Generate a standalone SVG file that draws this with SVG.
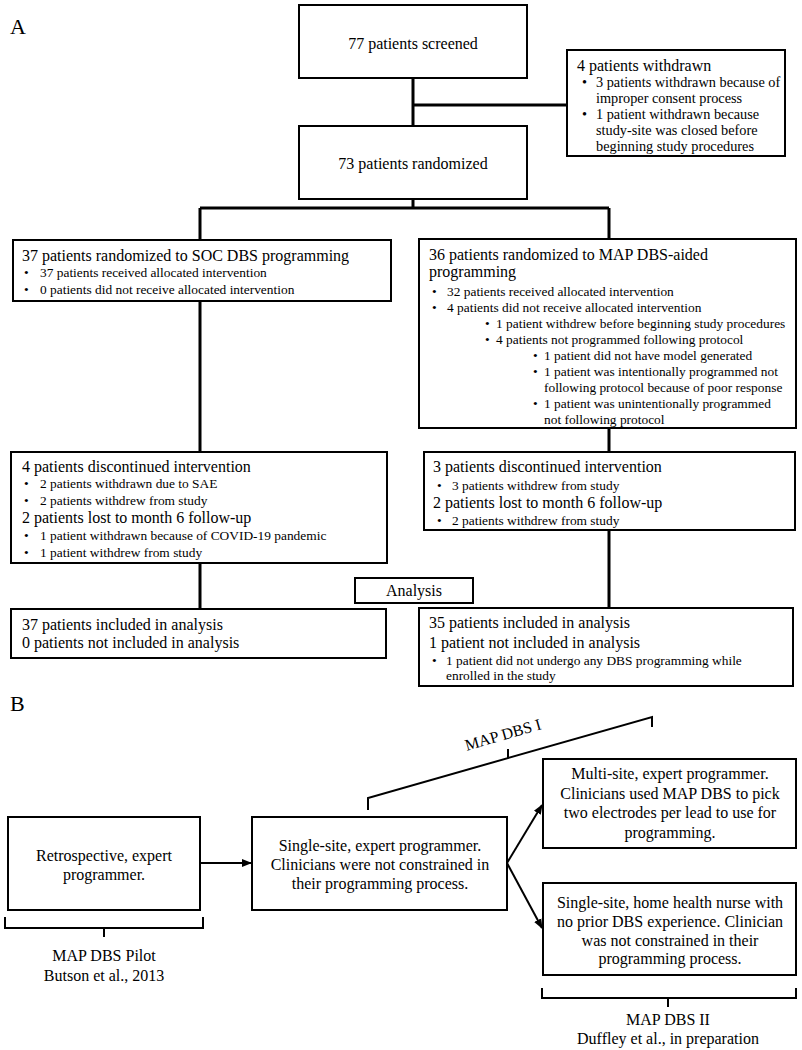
<svg xmlns="http://www.w3.org/2000/svg" width="802" height="1050" viewBox="0 0 802 1050">
<style>
text{font-family:"Liberation Serif","Times New Roman",serif;fill:#000}
.t{font-size:16px}
.s{font-size:13.4px}
.w{font-size:14.3px}
.c{text-anchor:middle}
.lbl{font-size:22px}
.box{fill:#fff;stroke:#000;stroke-width:2}
.con{fill:none;stroke:#000;stroke-width:3}
.conb{fill:none;stroke:#000;stroke-width:2}
</style>
<defs>
<marker id="ah" markerWidth="10" markerHeight="10" refX="9" refY="5" orient="auto" markerUnits="userSpaceOnUse">
<path d="M0,1 L10,5 L0,9 Z" fill="#000"/>
</marker>
</defs>
<rect width="802" height="1050" fill="#fff"/>
<text class="lbl" x="10" y="34">A</text>
<text class="lbl" x="10" y="711">B</text>
<g id="connectors">
<path class="con" d="M413,78 V126 M413,105 H567 M413,199 V208 M200,208 H609 M200,208 V240 M609,208 V239 M200,301 V452 M609,428 V452 M200,563 V609 M609,530 V608"/>
<path class="conb" d="M200,863 H251" marker-end="url(#ah)"/>
<path class="conb" d="M507,863 L542,805" marker-end="url(#ah)"/>
<path class="conb" d="M507,863 L542,928" marker-end="url(#ah)"/>
</g>
<g id="screened">
<rect class="box" x="299" y="5" width="228" height="73"/>
<text class="t c" x="413" y="49">77 patients screened</text>
</g>
<g id="withdrawn">
<rect class="box" x="567" y="50" width="218" height="106"/>
<text class="t" x="577" y="71">4 patients withdrawn</text>
<text class="w" x="582" y="87">•</text><text class="w" x="596" y="87">3 patients withdrawn because of</text>
<text class="w" x="596" y="103">improper consent process</text>
<text class="w" x="582" y="119">•</text><text class="w" x="596" y="119">1 patient withdrawn because</text>
<text class="w" x="596" y="135">study-site was closed before</text>
<text class="w" x="596" y="151">beginning study procedures</text>
</g>
<g id="randomized">
<rect class="box" x="299" y="126" width="228" height="73"/>
<text class="t c" x="413" y="169">73 patients randomized</text>
</g>
<g id="soc">
<rect class="box" x="13" y="240" width="378" height="61"/>
<text class="t" x="22" y="261">37 patients randomized to SOC DBS programming</text>
<text class="s" x="24" y="277">•</text><text class="s" x="40" y="277">37 patients received allocated intervention</text>
<text class="s" x="24" y="294">•</text><text class="s" x="40" y="294">0 patients did not receive allocated intervention</text>
</g>
<g id="map">
<rect class="box" x="419" y="239" width="377" height="189"/>
<text class="t" x="429" y="260">36 patients randomized to MAP DBS-aided</text>
<text class="t" x="429" y="277">programming</text>
<text class="s" x="432" y="296">•</text><text class="s" x="447" y="296">32 patients received allocated intervention</text>
<text class="s" x="432" y="312">•</text><text class="s" x="447" y="312">4 patients did not receive allocated intervention</text>
<text class="s" x="485" y="328">•</text><text class="s" x="496" y="328">1 patient withdrew before beginning study procedures</text>
<text class="s" x="485" y="344">•</text><text class="s" x="496" y="344">4 patients not programmed following protocol</text>
<text class="s" x="533" y="360">•</text><text class="s" x="544" y="360">1 patient did not have model generated</text>
<text class="s" x="533" y="376">•</text><text class="s" x="544" y="376">1 patient was intentionally programmed not</text>
<text class="s" x="544" y="392">following protocol because of poor response</text>
<text class="s" x="533" y="408">•</text><text class="s" x="544" y="408">1 patient was unintentionally programmed</text>
<text class="s" x="544" y="424">not following protocol</text>
</g>
<g id="soc-discontinued">
<rect class="box" x="11" y="452" width="376" height="111"/>
<text class="t" x="22" y="472">4 patients discontinued intervention</text>
<text class="s" x="24" y="488">•</text><text class="s" x="40" y="488">2 patients withdrawn due to SAE</text>
<text class="s" x="24" y="505">•</text><text class="s" x="40" y="505">2 patients withdrew from study</text>
<text class="t" x="22" y="523">2 patients lost to month 6 follow-up</text>
<text class="s" x="24" y="540">•</text><text class="s" x="40" y="540">1 patient withdrawn because of COVID-19 pandemic</text>
<text class="s" x="24" y="557">•</text><text class="s" x="40" y="557">1 patient withdrew from study</text>
</g>
<g id="map-discontinued">
<rect class="box" x="424" y="452" width="371" height="78"/>
<text class="t" x="433" y="472">3 patients discontinued intervention</text>
<text class="s" x="437" y="490">•</text><text class="s" x="452" y="490">3 patients withdrew from study</text>
<text class="t" x="433" y="508">2 patients lost to month 6 follow-up</text>
<text class="s" x="437" y="525">•</text><text class="s" x="452" y="525">2 patients withdrew from study</text>
</g>
<g id="analysis">
<rect class="box" x="355" y="578" width="118" height="25"/>
<text class="t c" x="414" y="596">Analysis</text>
</g>
<g id="soc-analysis">
<rect class="box" x="11" y="609" width="375" height="49"/>
<text class="t" x="22" y="630">37 patients included in analysis</text>
<text class="t" x="22" y="648">0 patients not included in analysis</text>
</g>
<g id="map-analysis">
<rect class="box" x="419" y="608" width="374" height="78"/>
<text class="t" x="429" y="628">35 patients included in analysis</text>
<text class="t" x="429" y="648">1 patient not included in analysis</text>
<text class="s" x="432" y="665">•</text><text class="s" x="446" y="665">1 patient did not undergo any DBS programming while</text>
<text class="s" x="446" y="680">enrolled in the study</text>
</g>
<g id="pilot">
<rect class="box" x="8" y="817" width="192" height="93"/>
<text class="t c" x="104" y="861">Retrospective, expert</text>
<text class="t c" x="104" y="880">programmer.</text>
</g>
<g id="mapdbs1">
<rect class="box" x="252" y="817" width="255" height="93"/>
<text class="t c" x="380" y="851">Single-site, expert programmer.</text>
<text class="t c" x="380" y="870">Clinicians were not constrained in</text>
<text class="t c" x="380" y="889">their programming process.</text>
</g>
<g id="mapdbs2-multi">
<rect class="box" x="543" y="759" width="253" height="89"/>
<text class="t c" x="670" y="779">Multi-site, expert programmer.</text>
<text class="t c" x="670" y="798.5">Clinicians used MAP DBS to pick</text>
<text class="t c" x="670" y="818">two electrodes per lead to use for</text>
<text class="t c" x="670" y="837.5">programming.</text>
</g>
<g id="mapdbs2-single">
<rect class="box" x="543" y="883" width="253" height="92"/>
<text class="t c" x="670" y="908">Single-site, home health nurse with</text>
<text class="t c" x="670" y="927">no prior DBS experience. Clinician</text>
<text class="t c" x="670" y="945.5">was not constrained in their</text>
<text class="t c" x="670" y="964">programming process.</text>
</g>
<g id="brackets">
<path class="conb" d="M5,917 V928 H203 V917 M104,928 V937"/>
<text class="t c" x="104" y="961">MAP DBS Pilot</text>
<text class="t c" x="104" y="981">Butson et al., 2013</text>
<path class="conb" d="M542,988 V998 H796 V988 M668,998 V1007"/>
<text class="t c" x="668" y="1025">MAP DBS II</text>
<text class="t c" x="668" y="1044">Duffley et al., in preparation</text>
<path class="conb" d="M368,810 V798 L652,717 V727 M508,758 V749"/>
<text class="t c" transform="translate(503,735) rotate(-16)" x="0" y="5">MAP DBS I</text>
</g>
</svg>
